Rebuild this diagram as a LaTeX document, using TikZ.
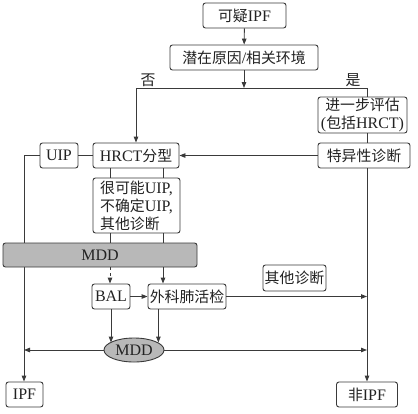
\documentclass[tikz,border=0pt]{standalone}
\usepackage{fontspec}
\setmainfont{Liberation Serif}
\newfontfamily\cjk[Scale=0.93]{Noto Sans CJK SC}
\usetikzlibrary{shapes.geometric,arrows.meta}
\definecolor{linec}{HTML}{3A3A3A}
\definecolor{txt}{HTML}{222222}
\definecolor{grayf}{HTML}{B8B8B8}
\tikzset{
  box/.style={draw=linec, rounded corners=2.5pt, line width=0.9pt, inner sep=0pt,
    minimum height=25pt, align=center, text=txt, font=\fontsize{16}{18}\selectfont},
  conn/.style={draw=linec, line width=0.9pt},
  arr/.style={conn, -{Triangle[length=6pt,width=4.5pt]}},
  lbl/.style={text=txt, inner sep=0pt, font=\fontsize{16}{18}\selectfont},
}
\begin{document}
\begin{tikzpicture}[x=1pt,y=-1pt]
\useasboundingbox[fill=white] (0,0) rectangle (418,413);
% columns
\coordinate (colL) at (136,88);
\coordinate (colR) at (367,88);
\coordinate (colI) at (24,155.5);
\coordinate (xa) at (110,0);
\coordinate (xb) at (163,0);
% nodes
\node[box, minimum width=83pt] (a) at (244.5,15.5) {{\cjk 可疑}IPF};
\node[box, minimum width=148pt] (b) at (244,57.5) {{\cjk 潜在原因}/{\cjk 相关环境}};
\node[box, minimum width=89pt, minimum height=36pt] (c) at (362.5,115) {{\cjk 进一步评估}\\({\cjk 包括}HRCT)};
\node[box, minimum width=92pt] (d) at (364,155.5) {{\cjk 特异性诊断}};
\node[box, minimum width=38pt] (uip) at (59,155.5) {UIP};
\node[box, minimum width=86pt] (hrct) at (136,155.5) {HRCT{\cjk 分型}};
\node[box, minimum width=87pt, minimum height=55pt, align=left] (poss) at (136.5,205.5) {{\cjk 很可能}UIP,\\{\cjk 不确定}UIP,\\{\cjk 其他诊断}};
\node[box, minimum width=37pt] (ipf) at (24.5,394.5) {IPF};
\node[box, minimum width=61pt] (nipf) at (367,394.5) {{\cjk 非}IPF};
\node[lbl] (no) at (148,80) {\cjk 否};
\node[lbl] (yes) at (353,80) {\cjk 是};
% left IPF line (under the MDD bar)
\draw[arr] (uip.west) -- (colI) -- (colI |- ipf.north);
\node[box, fill=grayf, minimum width=194pt, minimum height=24pt] (mdd1) at (100,255) {MDD};
\node[box, minimum width=38pt] (bal) at (111,296.5) {BAL};
\node[box, minimum width=78pt] (wk) at (187,296.5) {{\cjk 外科肺活检}};
\node[box, minimum width=63pt, minimum height=26pt] (oth) at (294.5,278) {{\cjk 其他诊断}};
\node[ellipse, draw=linec, line width=0.9pt, fill=grayf, inner sep=0pt, minimum width=60pt, minimum height=24pt, text=txt, font=\fontsize{16}{18}\selectfont] (mdde) at (134,350) {MDD};
% connectors
\draw[arr] (a) -- (b);
\draw[arr] (b.south) -- (b.south |- colR);
\draw[conn] (colL) -- (colR);
\draw[arr] (colL) -- (hrct.north);
\draw[conn] (colR) -- (colR |- c.north);
\draw[conn] (colR |- c.south) -- (colR |- d.north);
\draw[arr] (d.west) -- (hrct.east);
\draw[arr] (colR |- d.south) -- (nipf.north);
\draw[conn] (uip.east) -- (hrct.west);
\draw[conn] (hrct.south -| xa) -- (poss.north -| xa);
\draw[conn] (hrct.south -| xb) -- (poss.north -| xb);
\draw[conn] (poss.south -| xa) -- (mdd1.north -| xa);
\draw[conn] (poss.south -| xb) -- (mdd1.north -| xb);
\draw[arr, dashed] (mdd1.south -| xa) -- (bal.north -| xa);
\draw[arr] (mdd1.south -| xb) -- (wk.north -| xb);
\draw[arr] (bal.east) -- (wk.west);
\draw[arr] (wk.east) -- (wk.east -| colR);
\draw[arr] (bal.south) -- (bal.south |- mdde.163);
\draw[arr] (mdde.17 |- wk.south) -- (mdde.17);
\draw[arr] (mdde.west) -- (mdde.west -| colI);
\draw[arr] (mdde.east) -- (mdde.east -| colR);
\end{tikzpicture}
\end{document}
